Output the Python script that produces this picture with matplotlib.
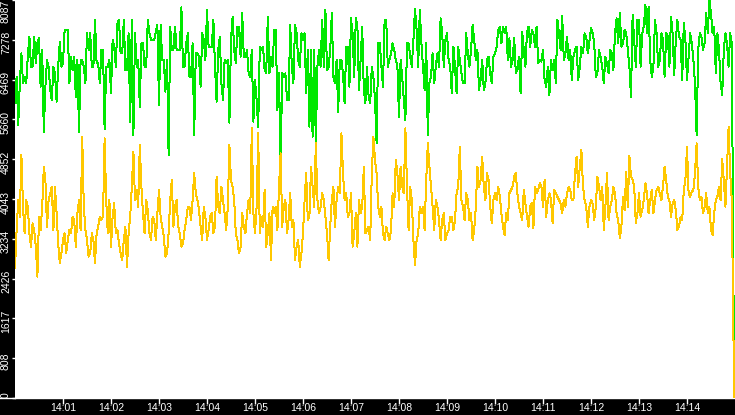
"""Two-series throughput strip chart, 14:00-14:15, black frame with white plot area."""

import matplotlib

matplotlib.use("Agg")
import matplotlib.pyplot as plt
import numpy as np
from matplotlib.lines import Line2D
from matplotlib.ticker import FixedLocator
from matplotlib.transforms import ScaledTranslation

plt.rcParams["font.family"] = ["Liberation Sans", "DejaVu Sans"]

# Samples. *_4S: every 4 s from 14:00:00 (225 values);
# *_MID: the readings 2 s after each of those (224 values). Both series end
# with a drop to zero at 14:14:59.
SAMPLE_STEP_S = 4
END_T = 899
END_VALUE = 0

GREEN_4S = [
    5987, 5547, 7003, 6529, 6936, 6732, 7342, 7207, 6326, 5412,
    6868, 6258, 6732, 6021, 7240, 6800, 7477, 6394, 6665, 6123,
    5412, 6868, 6394, 7071, 6732, 7681, 6800, 7071, 5459, 6732,
    6190, 7139, 7613, 7003, 7681, 6665, 5615, 5344, 6732, 5920,
    7207, 6732, 7410, 7274, 7444, 5954, 6868, 6224, 4938, 7071,
    7545, 7071, 7938, 6732, 7410, 6529, 5344, 7003, 6326, 7274,
    7884, 7139, 7681, 6021, 7342, 6055, 6800, 5595, 7748, 6800,
    7545, 7816, 6936, 6597, 7071, 6461, 5513, 7071, 6665, 7748,
    6936, 7477, 5852, 4701, 6529, 6055, 7579, 6394, 7410, 6732,
    7274, 6190, 5513, 5310, 5175, 7071, 7681, 7884, 6732, 7816,
    6394, 5818, 6868, 5987, 7139, 7714, 6529, 7545, 6868, 6258,
    6732, 5987, 6529, 5175, 7207, 6326, 7681, 6868, 7207, 6868,
    5716, 6529, 5649, 7207, 6732, 7897, 6732, 7207, 6258, 5344,
    6529, 6394, 7003, 7714, 6732, 7410, 6732, 7139, 6190, 6868,
    6394, 7410, 6732, 7579, 6868, 6258, 6868, 6394, 6936, 6394,
    7003, 7477, 7207, 7410, 6868, 6732, 7308, 6665, 6190, 7071,
    7444, 7139, 7410, 7545, 6868, 7071, 6326, 6157, 6665, 6394,
    7410, 7762, 7003, 6868, 6461, 7071, 6461, 7139, 7410, 7003,
    7511, 7207, 6597, 6936, 6394, 6800, 7071, 6665, 7714, 7816,
    7207, 7410, 6732, 7782, 6732, 7681, 7410, 7985, 7952, 6529,
    7681, 6732, 7410, 6529, 7342, 7748, 6563, 7681, 7274, 7613,
    6461, 7410, 6868, 5344, 7410, 7071, 7816, 8087, 7410, 6597,
    7071, 6157, 7410, 6732, 7207,
]
GREEN_MID = [
    6529, 6394, 6394, 6394, 7342, 6732, 6800, 7308, 7071, 6326,
    6732, 6055, 6597, 6732, 6732, 7477, 7477, 6936, 6936, 6868,
    6868, 6732, 7410, 7410, 6732, 6800, 6394, 7071, 6732, 6868,
    7274, 6732, 7681, 7003, 6665, 7410, 7681, 7410, 6868, 7207,
    6732, 7681, 7274, 7274, 7579, 7579, 6868, 6868, 7545, 7071,
    7071, 7071, 6732, 7207, 6529, 7207, 7003, 6936, 7410, 6868,
    7139, 7139, 6732, 7071, 6394, 6868, 6868, 7274, 7071, 7545,
    6936, 6936, 7071, 6529, 5615, 6055, 7139, 7139, 6597, 6597,
    6732, 7477, 6597, 6597, 6597, 6055, 6732, 7579, 6868, 7410,
    7410, 7071, 7071, 7071, 6732, 6732, 6732, 6665, 7071, 6529,
    6868, 6868, 6597, 7139, 6326, 7410, 7714, 6258, 7545, 5987,
    6123, 6732, 6055, 7207, 6732, 7681, 6732, 7003, 7071, 6732,
    6868, 6055, 7207, 6936, 7274, 7477, 7884, 6732, 7207, 6394,
    7003, 6732, 6732, 7410, 7274, 6868, 6190, 6732, 7139, 6597,
    6394, 7003, 7071, 7274, 7071, 6461, 6258, 6868, 6597, 6936,
    7139, 7545, 7545, 7545, 7308, 6868, 6597, 6936, 7444, 6732,
    7545, 7477, 7139, 6800, 6834, 6461, 6732, 6868, 6868, 7681,
    7071, 6868, 7342, 7071, 6936, 7139, 6732, 7003, 7342, 7240,
    7410, 6529, 7071, 6732, 6936, 6597, 7003, 7410, 7207, 7139,
    7477, 7071, 6123, 7274, 7681, 6732, 7545, 7410, 6868, 6732,
    7410, 6868, 7274, 7410, 6732, 7410, 7274, 7342, 6461, 7274,
    6936, 7207, 6394, 7071, 7342, 7207, 7410, 7816, 7545, 7410,
    6394, 7071, 7207, 7410,
]

YELLOW_4S = [
    2635, 4023, 4938, 3346, 3888, 3075, 3414, 2466, 3414, 4701,
    3481, 4159, 3414, 3752, 2736, 3210, 2940, 3414, 3685, 3075,
    4023, 5310, 3414, 2872, 3346, 2736, 3481, 3617, 5276, 3346,
    3075, 3955, 3414, 2940, 3210, 2669, 3685, 5005, 4226, 5141,
    3752, 4023, 3346, 3685, 3210, 4226, 3481, 2872, 3346, 4430,
    3888, 3481, 3075, 3414, 3888, 3617, 4565, 4023, 3481, 3888,
    3210, 3685, 3346, 4497, 3752, 4023, 3414, 5141, 4294, 3346,
    2940, 3752, 3346, 4023, 5479, 3346, 5378, 3685, 4226, 3346,
    2804, 3752, 3414, 4971, 3888, 3346, 4159, 3617, 3075, 2669,
    3346, 4565, 3685, 4294, 5175, 3752, 4159, 3685, 2804, 4023,
    3481, 4294, 5378, 4023, 3685, 4159, 3346, 3075, 3752, 4701,
    3414, 3210, 5310, 4565, 3685, 3346, 3481, 3210, 4159, 4836,
    4023, 4294, 5479, 3414, 4023, 2703, 3346, 3752, 3414, 5175,
    4294, 3414, 3888, 3210, 3752, 3346, 3685, 3414, 4159, 5107,
    3888, 4159, 3617, 3210, 3888, 4294, 4904, 4023, 4430, 3549,
    4159, 4294, 3752, 3312, 3617, 4226, 4497, 4159, 3752, 4226,
    3685, 3888, 3448, 4159, 4362, 3888, 3685, 4159, 3549, 4159,
    4023, 3752, 3888, 4294, 4023, 4565, 4294, 5039, 4023, 3481,
    4023, 3617, 4497, 4023, 3414, 4565, 3888, 4294, 3752, 3244,
    4091, 4599, 4917, 4430, 3549, 4159, 3820, 4362, 3752, 4226,
    4023, 4294, 4023, 4701, 4091, 3685, 4023, 3414, 3685, 4226,
    5107, 4091, 4226, 5175, 4023, 3752, 4159, 3888, 3312, 4023,
    4294, 4850, 3888, 5513, 4023,
]
YELLOW_MID = [
    3414, 3685, 3888, 4023, 3346, 3549, 3075, 3685, 3888, 4430,
    4023, 4294, 4294, 3143, 2940, 3346, 3210, 3346, 3617, 3752,
    3414, 3888, 3210, 2940, 3210, 3346, 3685, 3685, 4023, 4023,
    3685, 3346, 3143, 2804, 3481, 3346, 4294, 4023, 3888, 4294,
    3346, 3820, 3210, 3617, 3752, 3685, 3278, 2940, 4023, 3481,
    4023, 3346, 3143, 3617, 3888, 4023, 4159, 3820, 3210, 3685,
    3414, 3752, 3481, 3888, 4294, 3752, 3888, 4430, 4023, 3210,
    3075, 3481, 3752, 3752, 3752, 3888, 3346, 3481, 3075, 3752,
    3888, 3888, 4294, 3481, 4023, 3617, 3481, 2804, 3210, 2940,
    4023, 3617, 4701, 3888, 4023, 3888, 4023, 3346, 3481, 4294,
    4023, 4159, 4565, 4159, 3752, 3075, 3752, 4023, 3888, 3346,
    3481, 4565, 4836, 3888, 3888, 3210, 3346, 3414, 3888, 4565,
    4701, 4159, 4294, 4294, 3210, 3210, 3888, 3888, 4430, 4701,
    3888, 4023, 3617, 3617, 3210, 3414, 3685, 3617, 4294, 4023,
    3617, 4023, 3752, 3414, 4701, 4430, 4294, 4565, 3888, 4023,
    4023, 4091, 3481, 3752, 4159, 4294, 4565, 3888, 3617, 3955,
    3481, 3955, 4294, 4226, 4294, 4430, 4023, 4023, 4226, 4091,
    3955, 4023, 4159, 4226, 4023, 4904, 4701, 4294, 3888, 3888,
    3955, 3888, 4294, 4294, 3888, 3617, 4023, 4159, 3617, 3481,
    3820, 3888, 4497, 4294, 3752, 3685, 4023, 4159, 4023, 3752,
    4226, 4159, 4294, 4430, 4023, 3955, 3820, 3481, 3617, 4430,
    4159, 4193, 4565, 4294, 4091, 3888, 3752, 3414, 3752, 4091,
    4023, 4430, 4701, 4565,
]

Y_MAX = 8087
Y_TICKS = [0, 808.7, 1617.4, 2426.1, 3234.8, 4043.5, 4852.2, 5660.9, 6469.6, 7278.3, 8087]
Y_TICK_LABELS = ["0", "808", "1617", "2426", "3234", "4043", "4852", "5660", "6469", "7278", "8087"]
X_TICKS = [60 * k for k in range(1, 15)]
X_TICK_LABELS = [f"14:{k:02d}" for k in range(1, 15)]

COLOR_GREEN = "#00E800"
COLOR_YELLOW = "#FFC800"


def interleave(on_grid, between):
    """Merge the 4 s readings with the in-between ones, then add the final drop."""
    t_grid = np.arange(len(on_grid)) * SAMPLE_STEP_S
    t_mid = t_grid[:-1] + SAMPLE_STEP_S / 2
    t = np.empty(len(t_grid) + len(t_mid))
    v = np.empty_like(t)
    t[0::2], t[1::2] = t_grid, t_mid
    v[0::2], v[1::2] = on_grid, between
    return np.append(t, END_T), np.append(v, END_VALUE)


def main() -> None:
    fig = plt.figure(figsize=(7.35, 4.15), dpi=100, facecolor="black")
    W, H = 735, 415
    ax = fig.add_axes([15 / W, 17 / H, 720 / W, 398 / H])
    ax.set_facecolor("white")

    lw = 0.72  # one pixel
    t, g = interleave(GREEN_4S, GREEN_MID)
    ax.plot(t, g, color=COLOR_GREEN, lw=lw, antialiased=False, zorder=2)
    t, y = interleave(YELLOW_4S, YELLOW_MID)
    ax.plot(t, y, color=COLOR_YELLOW, lw=lw, antialiased=False, zorder=3)

    ax.set_xlim(0, 900)
    ax.set_ylim(0, Y_MAX)

    for side in ("top", "right", "left"):
        ax.spines[side].set_visible(False)
    ax.spines["bottom"].set_color("white")
    ax.spines["bottom"].set_linewidth(1.0)
    # bottom rule runs across the black label strip too
    fig.add_artist(Line2D([0, 15 / W], [17 / H, 17 / H], color="white", lw=1.0,
                          transform=fig.transFigure))

    ax.xaxis.set_major_locator(FixedLocator(X_TICKS))
    ax.set_xticklabels(X_TICK_LABELS)
    ax.yaxis.set_major_locator(FixedLocator(Y_TICKS))
    ax.set_yticklabels(Y_TICK_LABELS, rotation=90, va="center")
    # tick lengths / pads are in points (1 px = 0.72 pt here)
    ax.tick_params(axis="x", colors="white", length=4.3, width=1, pad=-0.6, labelsize=7.5)
    ax.tick_params(axis="y", colors="white", length=2.2, width=1, pad=0.7, labelsize=7.5)

    # labels sit a little below their ticks; the end ones stay inside the figure
    shift = ScaledTranslation(0, -0.03, fig.dpi_scale_trans)
    labels = ax.get_yticklabels()
    for lab in labels[1:-1]:
        lab.set_transform(lab.get_transform() + shift)
    labels[-1].set_va("top")
    labels[0].set_va("bottom")

    fig.savefig("out.png", dpi=100, facecolor="black")
    plt.close(fig)


if __name__ == "__main__":
    main()
